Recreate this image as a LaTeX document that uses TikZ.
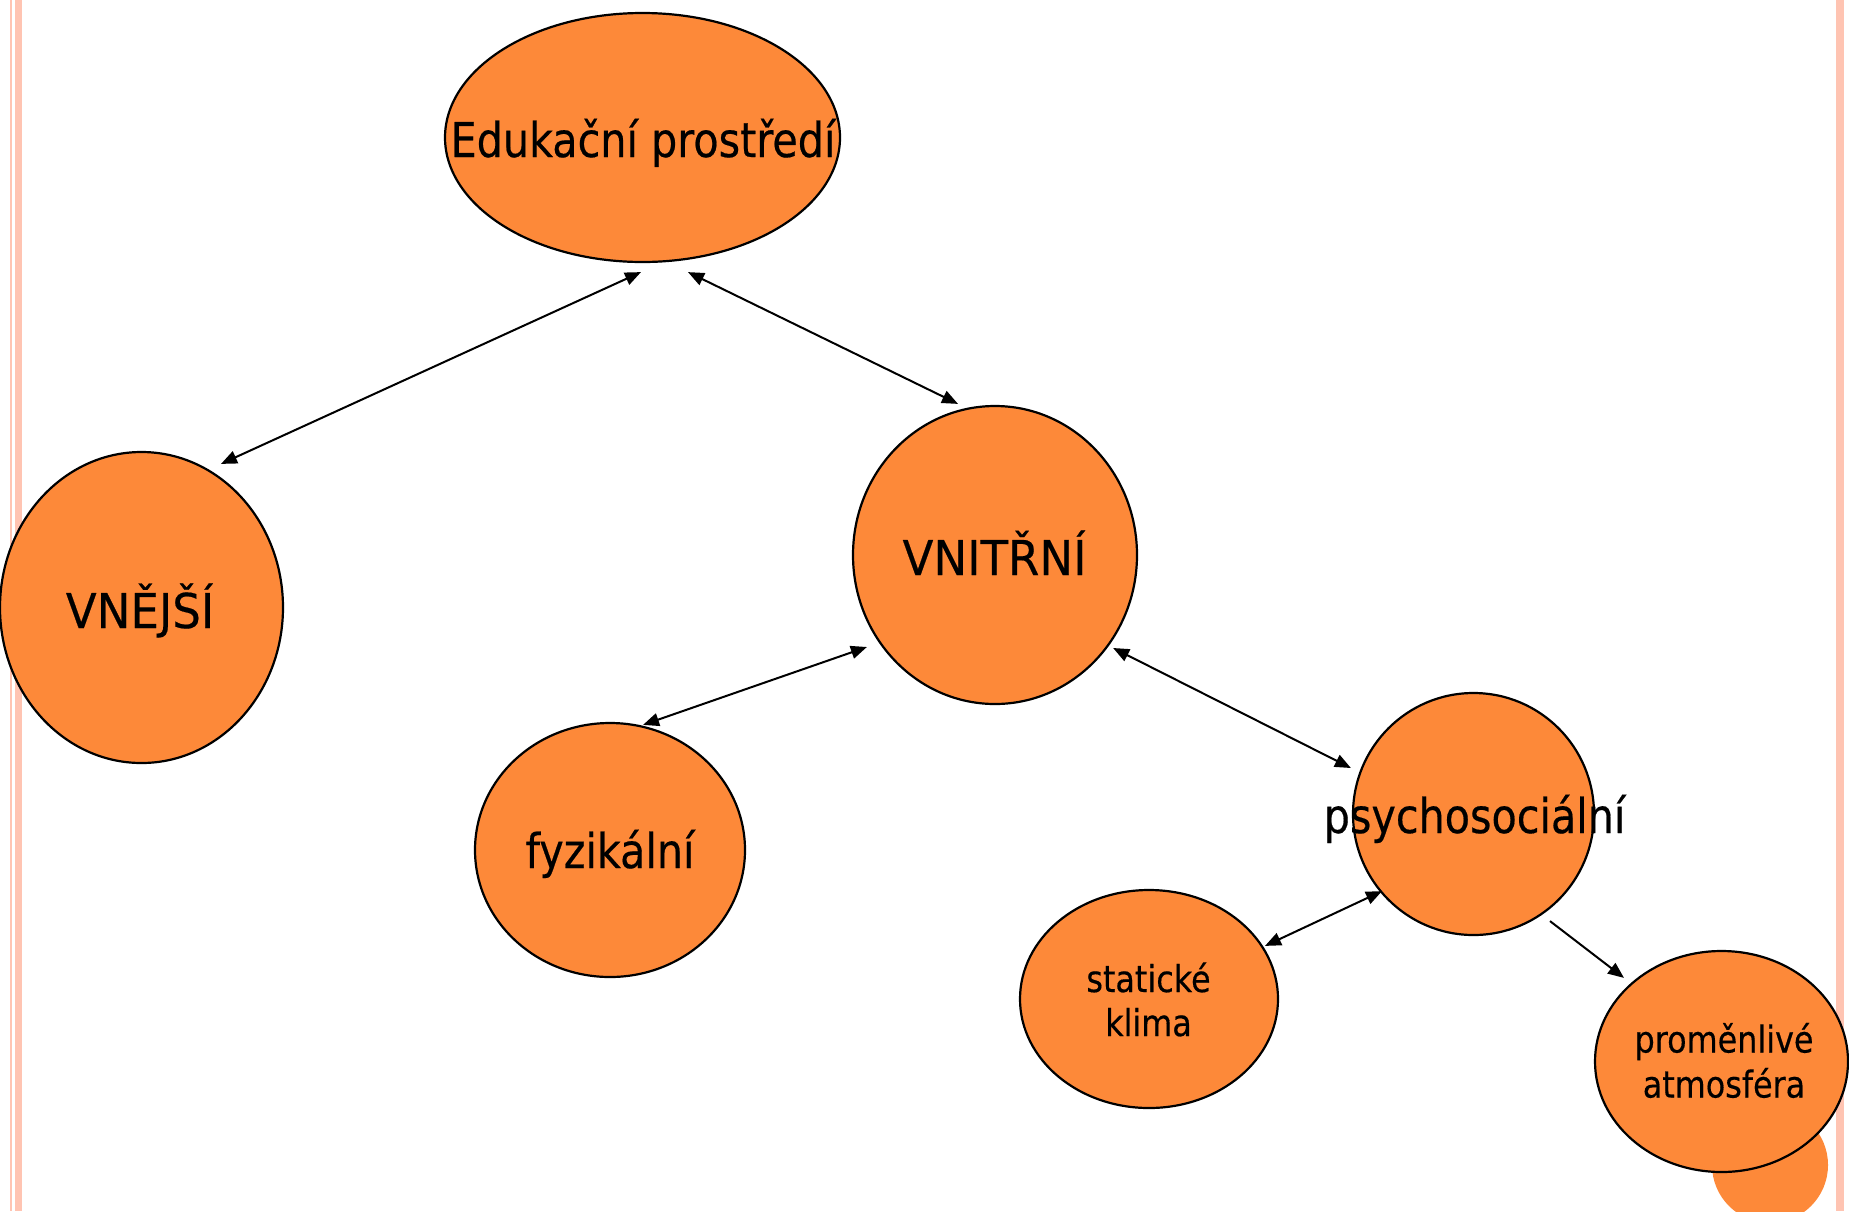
\documentclass[tikz,border=0pt]{standalone}
\usepackage{fontspec}
\setmainfont{DejaVu Sans}
\newfontfamily\lowf[FakeStretch=0.86,FakeBold=0.4]{DejaVu Sans}
\newfontfamily\capf[FakeStretch=0.94,FakeBold=0.4]{DejaVu Sans}
\usetikzlibrary{shapes.geometric,arrows.meta,calc}
\definecolor{blobfill}{RGB}{253,137,57}
\definecolor{pinkline}{RGB}{255,196,178}
\tikzset{
  blob/.style={ellipse, draw=black, line width=2.2pt, fill=blobfill, inner sep=0pt},
  bigtxt/.style={anchor=base, inner sep=0pt, font=\lowf\fontsize{48}{58}\selectfont},
  captxt/.style={anchor=base, inner sep=0pt, font=\capf\fontsize{48}{58}\selectfont},
  smalltxt/.style={anchor=base, inner sep=0pt, font=\lowf\fontsize{37}{44}\selectfont},
  biarr/.style={line width=2pt, {Triangle[length=16pt,width=13pt]}-{Triangle[length=16pt,width=13pt]}},
  onearr/.style={line width=2pt, -{Triangle[length=16pt,width=13pt]}}
}
\begin{document}
\begin{tikzpicture}[x=1pt,y=-1pt]
\useasboundingbox (0,0) rectangle (1849,1211);
\fill[white] (0,0) rectangle (1849,1211);
% slide border lines
\fill[pinkline] (10,0) rectangle (12,1211);
\fill[pinkline] (14.5,0) rectangle (22,1211);
\fill[pinkline] (1836,0) rectangle (1844,1211);
% decorative circle
\fill[blobfill] (1770,1165) circle[radius=58pt];
% ellipses
\node[blob, minimum width=395pt, minimum height=249pt] (edu) at (642.5,137.5) {};
\node[blob, minimum width=283pt, minimum height=311pt] (vne) at (141.5,607.5) {};
\node[blob, minimum width=284pt, minimum height=298pt] (vni) at (995,555) {};
\node[blob, minimum width=270pt, minimum height=254pt] (fyz) at (610,850) {};
\node[blob, minimum width=241pt, minimum height=242pt] (psy) at (1473.5,814) {};
\node[blob, minimum width=258pt, minimum height=218pt] (sta) at (1149,999) {};
\node[blob, minimum width=253pt, minimum height=221pt] (pro) at (1721.5,1061.5) {};
% texts
\node[bigtxt] (edut) at (643,157) {Edukační prostředí};
\node[captxt] (vnet) at (140,628) {VNĚJŠÍ};
\node[captxt] (vnit) at (994.5,575) {VNITŘNÍ};
\node[bigtxt] (fyzt) at (610,868) {fyzikální};
\node[bigtxt] (psyt) at (1474.5,833) {psychosociální};
\node[smalltxt] (stat1) at (1148.5,992) {statické};
\node[smalltxt] (stat2) at (1148.5,1036) {klima};
\node[smalltxt] (prot1) at (1724,1052.5) {proměnlivé};
\node[smalltxt] (prot2) at (1724,1097.5) {atmosféra};
% connectors
\draw[biarr] ($(edu.south)+(-1.5,9)$) -- ($(vne.north)+(79.5,13)$);
\draw[biarr] ($(edu.south)+(45.5,9)$) -- ($(vni.north)+(-37,-1)$);
\draw[biarr] ($(vni.west)+(15,92)$) -- ($(fyz.north)+(33,3)$);
\draw[biarr] ($(vni.east)+(-25,93)$) -- ($(psy.west)+(-1,-46)$);
\draw[biarr] ($(psy.south)+(-91.5,-45)$) -- ($(sta.north)+(116,57)$);
\draw[onearr] ($(psy.south)+(76.5,-15)$) -- ($(pro.north)+(-97.5,28)$);
\end{tikzpicture}
\end{document}
